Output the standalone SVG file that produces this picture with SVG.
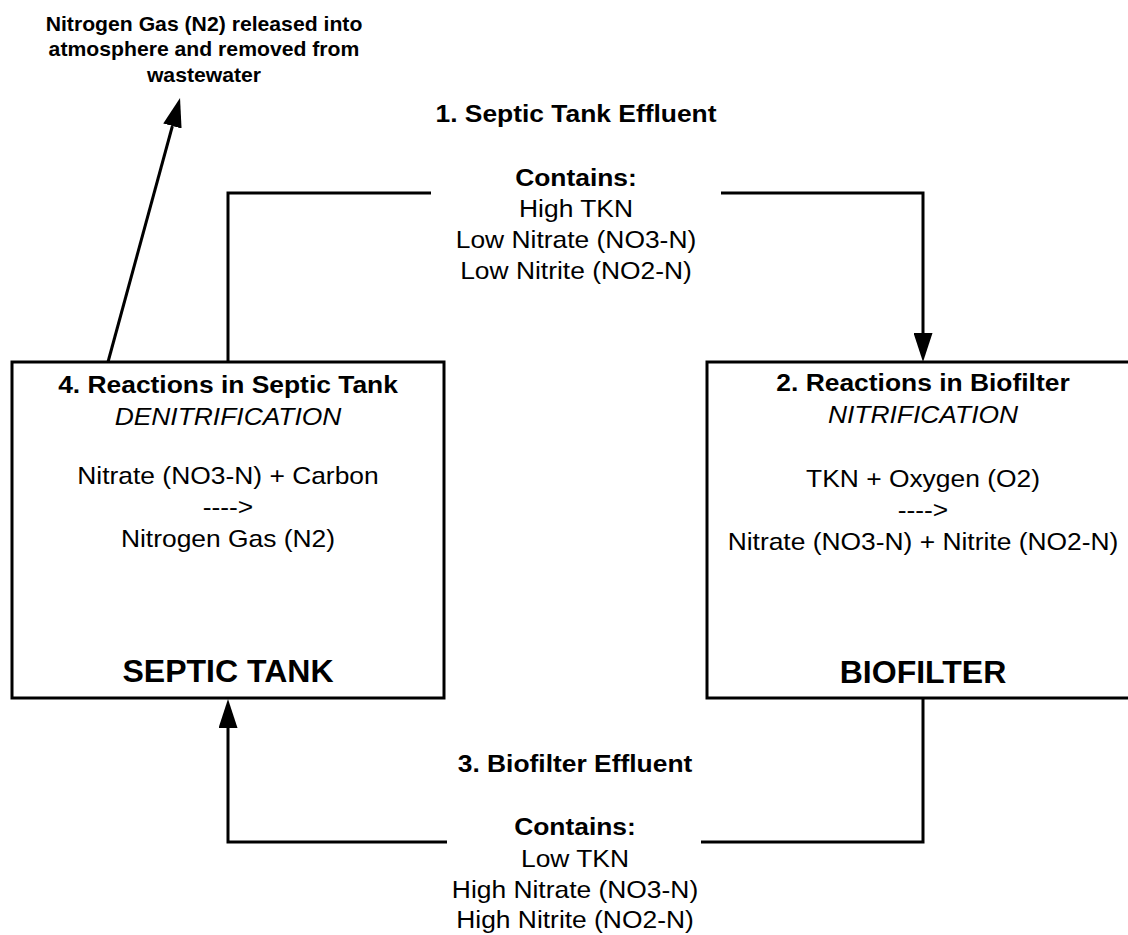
<svg xmlns="http://www.w3.org/2000/svg" width="1128" height="935" viewBox="0 0 1128 935">
<style>
  text{font-family:"Liberation Sans",Arial,Helvetica,sans-serif;fill:#000;text-anchor:middle}
  .b{font-weight:bold;font-size:24px}
  .r{font-size:24px}
  .i{font-size:24px;font-style:italic}
  .big{font-weight:bold;font-size:32px}
  .note{font-weight:bold;font-size:20px}
  .box{fill:#fff;stroke:#000;stroke-width:3}
  .conn{fill:none;stroke:#000;stroke-width:3;marker-end:url(#ah)}
  .bg{fill:#fff;stroke:none}
</style>
<defs>
  <marker id="ah" viewBox="0 0 29 19" refX="0" refY="9.5" markerWidth="29" markerHeight="19" markerUnits="userSpaceOnUse" orient="auto">
    <path d="M0,0 L29,9.5 L0,19 Z" fill="#000"/>
  </marker>
</defs>
<rect width="1128" height="935" fill="#fff"/>

<g id="septic-tank">
  <rect class="box" x="12" y="362" width="432" height="336"/>
  <text class="b" transform="translate(228,0) scale(1.1,1)" x="0" y="393">4. Reactions in Septic Tank</text>
  <text class="i" transform="translate(228,0) scale(1.1,1)" x="0" y="425">DENITRIFICATION</text>
  <text class="r" transform="translate(228,0) scale(1.1,1)" x="0" y="484">Nitrate (NO3-N) + Carbon</text>
  <text class="r" transform="translate(228,0) scale(1.1,1)" x="0" y="515">----&gt;</text>
  <text class="r" transform="translate(228,0) scale(1.1,1)" x="0" y="547">Nitrogen Gas (N2)</text>
  <text class="big" x="228" y="682">SEPTIC TANK</text>
</g>

<g id="biofilter">
  <rect class="box" x="707" y="362" width="434" height="336"/>
  <text class="b" transform="translate(923,0) scale(1.1,1)" x="0" y="391">2. Reactions in Biofilter</text>
  <text class="i" transform="translate(923,0) scale(1.1,1)" x="0" y="423">NITRIFICATION</text>
  <text class="r" transform="translate(923,0) scale(1.1,1)" x="0" y="487">TKN + Oxygen (O2)</text>
  <text class="r" transform="translate(923,0) scale(1.1,1)" x="0" y="518">----&gt;</text>
  <text class="r" transform="translate(923,0) scale(1.1,1)" x="0" y="550">Nitrate (NO3-N) + Nitrite (NO2-N)</text>
  <text class="big" x="923" y="683">BIOFILTER</text>
</g>

<g id="atmosphere-note">
  <text class="note" transform="translate(204,0) scale(1.06,1)" x="0" y="31">Nitrogen Gas (N2) released into</text>
  <text class="note" transform="translate(204,0) scale(1.06,1)" x="0" y="56">atmosphere and removed from</text>
  <text class="note" transform="translate(204,0) scale(1.06,1)" x="0" y="82">wastewater</text>
</g>

<g id="connectors">
  <path class="conn" d="M228,362 V193 H923 V333"/>
  <path class="conn" d="M923,698 V842 H228 V728"/>
  <path class="conn" d="M108,362 L172.4,126"/>
</g>

<g id="label-septic-effluent">
  <rect class="bg" x="431" y="187" width="290" height="12"/>
  <text class="b" transform="translate(576,0) scale(1.1,1)" x="0" y="122">1. Septic Tank Effluent</text>
  <text class="b" transform="translate(576,0) scale(1.1,1)" x="0" y="186">Contains:</text>
  <text class="r" transform="translate(576,0) scale(1.1,1)" x="0" y="217">High TKN</text>
  <text class="r" transform="translate(576,0) scale(1.1,1)" x="0" y="248">Low Nitrate (NO3-N)</text>
  <text class="r" transform="translate(576,0) scale(1.1,1)" x="0" y="279">Low Nitrite (NO2-N)</text>
</g>

<g id="label-biofilter-effluent">
  <rect class="bg" x="447" y="836" width="254" height="12"/>
  <text class="b" transform="translate(575,0) scale(1.1,1)" x="0" y="772">3. Biofilter Effluent</text>
  <text class="b" transform="translate(575,0) scale(1.1,1)" x="0" y="835">Contains:</text>
  <text class="r" transform="translate(575,0) scale(1.1,1)" x="0" y="867">Low TKN</text>
  <text class="r" transform="translate(575,0) scale(1.1,1)" x="0" y="898">High Nitrate (NO3-N)</text>
  <text class="r" transform="translate(575,0) scale(1.1,1)" x="0" y="928">High Nitrite (NO2-N)</text>
</g>
</svg>
